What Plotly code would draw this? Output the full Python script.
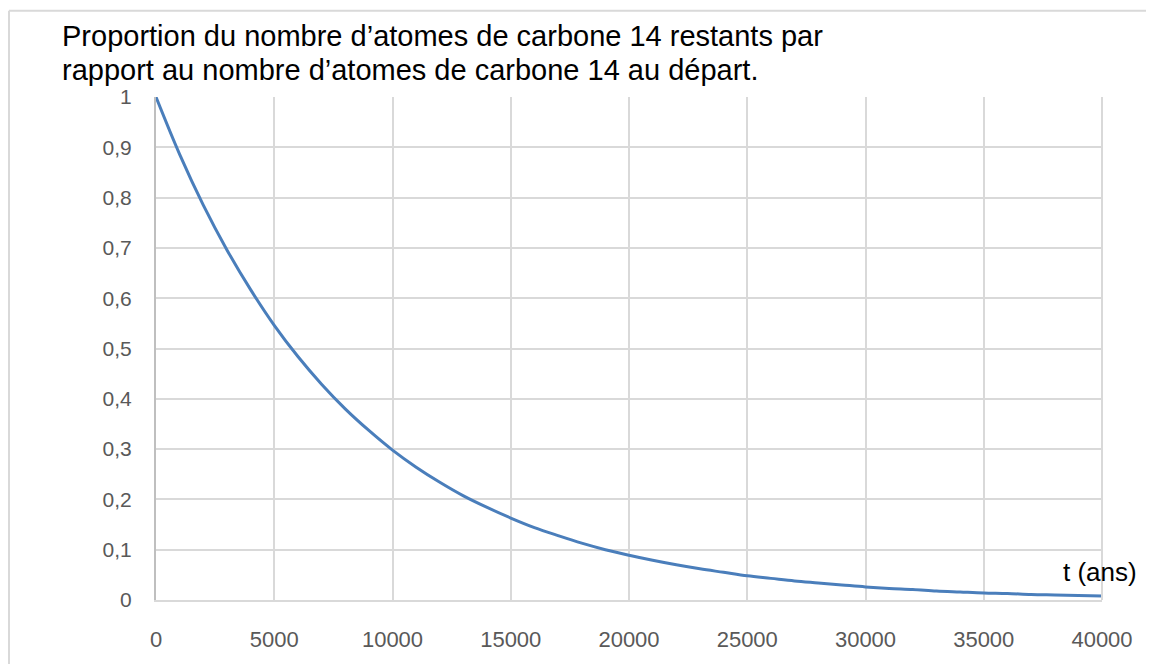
import plotly.graph_objects as go

# Data (years, proportion remaining)
t_years = [0, 1000, 2000, 3000, 4000, 5000, 6000, 7000, 8000, 9000, 10000,
           11000, 12000, 13000, 14000, 15000, 16000, 17000, 18000, 19000, 20000,
           21000, 22000, 23000, 24000, 25000, 26000, 27000, 28000, 29000, 30000,
           31000, 32000, 33000, 34000, 35000, 36000, 37000, 38000, 39000, 40000]
proportion = [1.0, 0.886, 0.785, 0.696, 0.617, 0.546, 0.484, 0.429, 0.380, 0.337, 0.298,
              0.264, 0.234, 0.207, 0.184, 0.163, 0.144, 0.128, 0.113, 0.100, 0.089,
              0.079, 0.070, 0.062, 0.055, 0.048, 0.043, 0.038, 0.034, 0.030, 0.026,
              0.023, 0.021, 0.018, 0.016, 0.014, 0.013, 0.011, 0.010, 0.009, 0.008]

x_ticks = [0, 5000, 10000, 15000, 20000, 25000, 30000, 35000, 40000]
y_ticks = [0, 0.1, 0.2, 0.3, 0.4, 0.5, 0.6, 0.7, 0.8, 0.9, 1]
y_tick_labels = ["0", "0,1", "0,2", "0,3", "0,4", "0,5", "0,6", "0,7", "0,8", "0,9", "1"]

title_lines = ["Proportion du nombre d’atomes de carbone 14 restants par",
               "rapport au nombre d’atomes de carbone 14 au départ."]
x_label = "t (ans)"

OFF = 8  # page body margin
W, H = 1154 - OFF, 664 - OFF
# target pixel positions in the screenshot
PL, PR, PT, PB = 156, 1102, 97, 610
L, T = PL - OFF, PT - OFF
R = W - (PR - OFF)
B = H - (PB - OFF)
pw, ph = PR - PL, PB - PT

def px(x):
    return (x - PL) / pw

def py(y):
    return (PB - y) / ph

fig = go.Figure()
fig.add_trace(go.Scatter(
    x=t_years, y=proportion, mode="lines",
    line=dict(color="#4a7ebb", width=3, shape="spline"),
    showlegend=False, hoverinfo="skip"))

annotations = []
for i, (line, yc) in enumerate(zip(title_lines, [35, 69])):
    annotations.append(dict(text=line, xref="paper", yref="paper", x=px(60), y=py(yc),
                            xanchor="left", yanchor="middle", align="left", showarrow=False,
                            font=dict(size=29, color="black")))
annotations.append(dict(text=x_label, xref="paper", yref="paper", x=px(1139), y=py(581),
                        xanchor="right", yanchor="middle", showarrow=False,
                        font=dict(size=26, color="black")))

fig.update_layout(
    width=W, height=H,
    margin=dict(l=L, r=R, t=T, b=B),
    paper_bgcolor="white", plot_bgcolor="white",
    font=dict(family="Liberation Sans, Arial, sans-serif"),
    xaxis=dict(range=[0, 40000], tickvals=x_ticks, ticktext=[str(v) for v in x_ticks],
               showgrid=True, gridcolor="#d9d9d9", gridwidth=2,
               showline=True, linecolor="#d9d9d9", linewidth=2, mirror=False,
               zeroline=False, ticks="", ticklabelstandoff=19,
               tickfont=dict(size=22, color="#595959")),
    yaxis=dict(range=[0, 1], tickvals=y_ticks, ticktext=y_tick_labels,
               showgrid=True, gridcolor="#d9d9d9", gridwidth=2,
               showline=True, linecolor="#bfbfbf", linewidth=2,
               zeroline=False, ticks="", ticklabelstandoff=18,
               tickfont=dict(size=21, color="#595959")),
    shapes=[
        dict(type="line", xref="paper", yref="paper", x0=1, x1=1, y0=0, y1=1,
             line=dict(color="#d9d9d9", width=2)),
        dict(type="line", xref="paper", yref="paper",
             x0=px(OFF + 1), x1=px(OFF + 1), y0=py(OFF + 1), y1=py(700),
             line=dict(color="#d9d9d9", width=2)),
        dict(type="line", xref="paper", yref="paper",
             x0=px(OFF + 1), x1=px(1200), y0=py(OFF + 1), y1=py(OFF + 1),
             line=dict(color="#d9d9d9", width=2)),
    ],
    annotations=annotations,
)

fig.write_html("out.html")
